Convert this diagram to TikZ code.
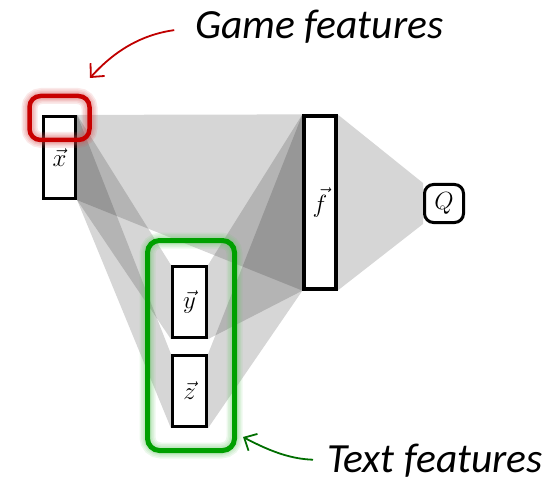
\documentclass[tikz,border=0pt]{standalone}
\usepackage{fontspec}
\newfontfamily\labelfont{Carlito}
\usetikzlibrary{arrows.meta}
\pgfdeclarelayer{background}
\pgfsetlayers{background,main}
\definecolor{hired}{RGB}{200,0,0}
\definecolor{higreen}{RGB}{0,160,0}
\definecolor{arrred}{RGB}{192,0,0}
\definecolor{arrgreen}{RGB}{0,110,0}
\tikzset{
  vecbox/.style={draw=black, line width=3.2pt, fill=white, inner sep=0pt, font=\fontsize{25}{30}\selectfont},
  qbox/.style={draw=black, line width=3pt, fill=white, rounded corners=9pt, minimum width=39pt, minimum height=38pt, inner sep=0pt, font=\fontsize{23}{28}\selectfont},
  shade/.style={fill=black, fill opacity=0.16},
  caption/.style={font=\labelfont\itshape\fontsize{41.5}{48}\selectfont, inner sep=0pt, anchor=base west},
  redarrow/.style={draw=arrred, line width=1.8pt, -{Straight Barb[length=10pt,width=19pt,line width=1.8pt]}},
  greenarrow/.style={draw=arrgreen, line width=1.8pt, -{Straight Barb[length=10pt,width=19pt,line width=1.8pt]}},
}
\begin{document}
\begin{tikzpicture}[x=1pt,y=-1pt]
\useasboundingbox (0,0) rectangle (559,481);
% nodes
\node[vecbox, minimum width=32pt, minimum height=82pt] (x) at (59.5,157.5) {$\vec{x}$};
\node[vecbox, minimum width=32pt, minimum height=173pt] (f) at (320,202.5) {$\vec{f}$};
\node[vecbox, minimum width=34pt, minimum height=71pt] (y) at (189.5,302) {$\vec{y}$};
\node[vecbox, minimum width=34pt, minimum height=71pt] (z) at (189.5,391) {$\vec{z}$};
\node[qbox] (q) at (444,203.5) {$Q$};
% shading
\begin{pgfonlayer}{background}
\fill[shade] (x.north east) -- (f.north west) -- (f.south west) -- (x.south east) -- cycle;
\fill[shade] (x.north east) -- (y.north west) -- (y.south west) -- (x.south east) -- cycle;
\fill[shade] (x.north east) -- (z.north west) -- (z.south west) -- (x.south east) -- cycle;
\fill[shade] (y.north east) -- (f.north west) -- (f.south west) -- (y.south east) -- cycle;
\fill[shade] (z.north east) -- (f.north west) -- (f.south west) -- (z.south east) -- cycle;
\fill[shade] (f.north east) -- (q.north west) -- (q.south west) -- (f.south east) -- cycle;
\end{pgfonlayer}
% highlight boxes with glow
\coordinate (redA) at (29.5,96);
\coordinate (redB) at (89.5,140);
\coordinate (greenA) at (147.5,240.5);
\coordinate (greenB) at (234.5,450.5);
\foreach \w in {16,13,10,8}{
  \draw[hired!70, line width=\w pt, opacity=0.12, rounded corners=12pt] (redA) rectangle (redB);
  \draw[higreen!60, line width=\w pt, opacity=0.12, rounded corners=13pt] (greenA) rectangle (greenB);
}
\node[draw=hired, line width=4.5pt, rounded corners=11pt, minimum width=60pt, minimum height=44pt, inner sep=0pt] (redbox) at (59.5,118) {};
\node[draw=higreen, line width=5pt, rounded corners=12pt, minimum width=87pt, minimum height=210pt, inner sep=0pt] (greenbox) at (191,345.5) {};
% captions
\node[caption] (game) at (195,39) {Game features};
\node[caption] (text) at (327,472) {Text features};
\coordinate (redtip) at (90,78);
\coordinate (greentip) at (243,437);
\draw[redarrow, shorten <=21pt] (game.west) to[out=188,in=48] (redtip);
\draw[greenarrow, shorten <=14pt] (text.west) to[out=178,in=-28] (greentip);
\end{tikzpicture}
\end{document}
